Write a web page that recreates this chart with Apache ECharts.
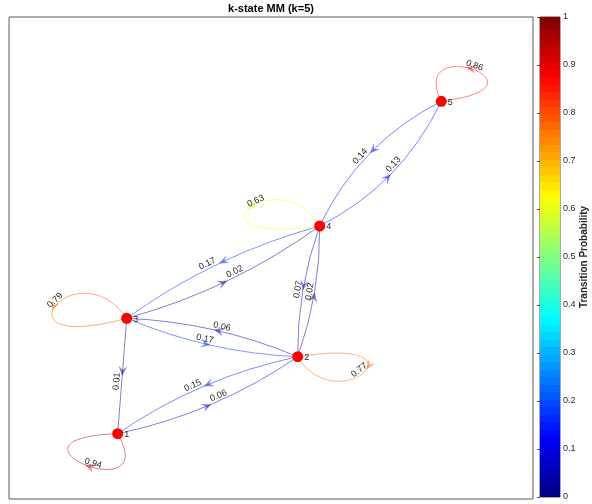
<!DOCTYPE html>
<html>
<head>
<meta charset="utf-8">
<script src="https://cdn.jsdelivr.net/npm/echarts@6/dist/echarts.min.js"></script>
<style>
  html, body { margin: 0; padding: 0; background: #fff; }
  #chart { width: 592px; height: 504px; }
</style>
</head>
<body>
<div id="chart"></div>
<script>
// ---- Markov chain states (layout coordinates, y up) ----
const stateNames = ['1', '2', '3', '4', '5'];
const stateX = [2.074, 5.510, 2.246, 5.929, 8.250];
const stateY = [1.355, 2.952, 3.749, 5.664, 8.251];

// ---- Transitions (0-based state indices) and their probabilities ----
const edgeFrom = [0, 0, 1, 1, 1, 1, 2, 2, 2, 2, 3, 3, 3, 3, 4, 4];
const edgeTo   = [0, 1, 0, 1, 2, 3, 0, 1, 2, 3, 1, 2, 3, 4, 3, 4];
const edgeProb = [0.94, 0.06, 0.15, 0.77, 0.06, 0.02, 0.01, 0.17, 0.79, 0.02, 0.07, 0.17, 0.63, 0.13, 0.14, 0.86];

// ---- Colorbar ticks ----
const colorbarTicks = [0, 0.1, 0.2, 0.3, 0.4, 0.5, 0.6, 0.7, 0.8, 0.9, 1];

// ---- Drawing style ----
const FONT = '"Liberation Sans", Arial, Helvetica, sans-serif';
const TEXT_COLOR = '#262626';
const EDGE_ALPHA = 0.5;
// bend of reciprocal edge pairs (control offset as a fraction of edge length)
const pairBend = { '0-1': 0.10, '1-2': 0.09, '1-3': 0.09, '2-3': 0.09, '3-4': 0.17 };
// where along a directed edge its label sits (default 0.55)
const edgeLabelAt = { '1>2': 0.46, '2>1': 0.46, '3>1': 0.5, '1>3': 0.5 };
// self-loop shape per state: cubic control offsets from the node (px, screen),
// arrow tip and label positions along the loop, label lift
const loopShape = [
  { c1: [45, 78], c2: [-132, 5], arrowAt: 0.5, labelAt: 0.45, gap: 4 },
  { c1: [136, -22], c2: [40, 65], arrowAt: 0.45, labelAt: 0.52, gap: 5 },
  { c1: [-50, -72], c2: [-140, 38], arrowAt: 0.56, labelAt: 0.47, gap: 4 },
  { c1: [-38, -68], c2: [-148, 20], arrowAt: 0.53, labelAt: 0.43, gap: 3 },
  { c1: [120, -15], c2: [-35, -70], arrowAt: 0.56, labelAt: 0.5, gap: 4 }
];

function jet(v) {
  const f = t => Math.max(0, Math.min(1, t));
  return [f(1.5 - Math.abs(4 * v - 3)), f(1.5 - Math.abs(4 * v - 2)), f(1.5 - Math.abs(4 * v - 1))]
    .map(c => Math.round(c * 255));
}
function jetCss(v, a) {
  const c = jet(v);
  return a == null ? 'rgb(' + c.join(',') + ')' : 'rgba(' + c[0] + ',' + c[1] + ',' + c[2] + ',' + a + ')';
}

function norm(v) {
  const l = Math.hypot(v[0], v[1]) || 1;
  return [v[0] / l, v[1] / l];
}
function quadAt(p0, c, p1, t) {
  const u = 1 - t;
  return [u * u * p0[0] + 2 * u * t * c[0] + t * t * p1[0], u * u * p0[1] + 2 * u * t * c[1] + t * t * p1[1]];
}
function quadTan(p0, c, p1, t) {
  const u = 1 - t;
  return norm([2 * u * (c[0] - p0[0]) + 2 * t * (p1[0] - c[0]), 2 * u * (c[1] - p0[1]) + 2 * t * (p1[1] - c[1])]);
}
function cubicAt(p0, c1, c2, p3, t) {
  const u = 1 - t;
  const a = u * u * u, b = 3 * u * u * t, c = 3 * u * t * t, d = t * t * t;
  return [a * p0[0] + b * c1[0] + c * c2[0] + d * p3[0], a * p0[1] + b * c1[1] + c * c2[1] + d * p3[1]];
}
function cubicTan(p0, c1, c2, p3, t) {
  const u = 1 - t;
  return norm([
    3 * u * u * (c1[0] - p0[0]) + 6 * u * t * (c2[0] - c1[0]) + 3 * t * t * (p3[0] - c2[0]),
    3 * u * u * (c1[1] - p0[1]) + 6 * u * t * (c2[1] - c1[1]) + 3 * t * t * (p3[1] - c2[1])
  ]);
}

// barbed arrowhead with its tip at `tip`, pointing along unit vector `dir`
function arrowHead(tip, dir, color) {
  const L = 10, W = 4.3;
  const nx = -dir[1], ny = dir[0];
  const bx = tip[0] - dir[0] * L, by = tip[1] - dir[1] * L;
  const notch = [tip[0] - dir[0] * L * 0.6, tip[1] - dir[1] * L * 0.6];
  return {
    type: 'polygon',
    shape: { points: [tip, [bx + nx * W, by + ny * W], notch, [bx - nx * W, by - ny * W]] },
    style: { fill: color, stroke: null }
  };
}

// probability text rotated along the edge, lifted slightly above it
function edgeText(pt, tan, text, gap) {
  let a = Math.atan2(-tan[1], tan[0]);
  if (a > Math.PI / 2 + 1e-6) a -= Math.PI;
  else if (a < -Math.PI / 2 - 1e-6) a += Math.PI;
  return {
    type: 'text',
    x: pt[0] - Math.sin(a) * gap,
    y: pt[1] - Math.cos(a) * gap,
    rotation: a,
    style: {
      text: text, font: '9px ' + FONT, fill: TEXT_COLOR,
      align: 'center', verticalAlign: 'middle'
    }
  };
}

function hasReverse(i) {
  for (let k = 0; k < edgeFrom.length; k++) {
    if (edgeFrom[k] === edgeTo[i] && edgeTo[k] === edgeFrom[i]) return true;
  }
  return false;
}

function renderEdge(params, api) {
  const i = params.dataIndex;
  const s = edgeFrom[i], t = edgeTo[i], p = edgeProb[i];
  const color = jetCss(p, EDGE_ALPHA);
  const label = p.toFixed(2);
  const P0 = api.coord([stateX[s], stateY[s]]);
  const children = [];

  if (s === t) {
    const ls = loopShape[s];
    const C1 = [P0[0] + ls.c1[0], P0[1] + ls.c1[1]];
    const C2 = [P0[0] + ls.c2[0], P0[1] + ls.c2[1]];
    children.push({
      type: 'bezierCurve',
      shape: { x1: P0[0], y1: P0[1], x2: P0[0], y2: P0[1], cpx1: C1[0], cpy1: C1[1], cpx2: C2[0], cpy2: C2[1] },
      style: { stroke: color, fill: null, lineWidth: 1 }
    });
    children.push(arrowHead(cubicAt(P0, C1, C2, P0, ls.arrowAt), cubicTan(P0, C1, C2, P0, ls.arrowAt), color));
    children.push(edgeText(cubicAt(P0, C1, C2, P0, ls.labelAt), cubicTan(P0, C1, C2, P0, ls.labelAt), label, ls.gap));
  } else {
    const P1 = api.coord([stateX[t], stateY[t]]);
    const dx = P1[0] - P0[0], dy = P1[1] - P0[1];
    const len = Math.hypot(dx, dy);
    let bend = 0;
    if (hasReverse(i)) {
      bend = pairBend[Math.min(s, t) + '-' + Math.max(s, t)] || 0.1;
    }
    const h = bend * len;
    const C = [(P0[0] + P1[0]) / 2 - dy / len * h, (P0[1] + P1[1]) / 2 + dx / len * h];
    const lt = edgeLabelAt[s + '>' + t] || 0.55;
    children.push({
      type: 'bezierCurve',
      shape: { x1: P0[0], y1: P0[1], x2: P1[0], y2: P1[1], cpx1: C[0], cpy1: C[1] },
      style: { stroke: color, fill: null, lineWidth: 1 }
    });
    children.push(arrowHead(quadAt(P0, C, P1, 0.5), quadTan(P0, C, P1, 0.5), color));
    children.push(edgeText(quadAt(P0, C, P1, lt), quadTan(P0, C, P1, lt), label, 5));
  }
  return { type: 'group', children: children };
}

// banded jet colormap for the colorbar
const bandStops = [];
const NBANDS = 64;
for (let b = 0; b < NBANDS; b++) {
  const c = jetCss((b + 0.5) / NBANDS);
  bandStops.push({ offset: b / NBANDS, color: c }, { offset: (b + 1) / NBANDS, color: c });
}

const chart = echarts.init(document.getElementById('chart'), null, { renderer: 'canvas' });
chart.setOption({
  animation: false,
  backgroundColor: '#ffffff',
  graphic: [{
    type: 'text', x: 271, y: 9,
    style: {
      text: 'k-state MM (k=5)', font: 'bold 11px ' + FONT, fill: '#000',
      align: 'center', verticalAlign: 'middle'
    }
  }],
  grid: [
    { left: 9, top: 17, width: 524, height: 482, show: true, borderColor: '#5a5a5a', borderWidth: 1, backgroundColor: 'transparent' },
    { left: 540, top: 17, width: 20, height: 480, show: true, borderColor: '#262626', borderWidth: 0.8, backgroundColor: 'transparent' }
  ],
  xAxis: [
    { gridIndex: 0, type: 'value', min: 0, max: 10, show: false },
    { gridIndex: 1, type: 'value', min: 0, max: 1, show: false }
  ],
  yAxis: [
    { gridIndex: 0, type: 'value', min: 0, max: 10, show: false },
    {
      gridIndex: 1, type: 'value', position: 'right', min: 0, max: 1, interval: 0.1,
      axisLine: { show: false },
      axisTick: { show: true, inside: true, length: 3, lineStyle: { color: TEXT_COLOR, width: 0.8 } },
      axisLabel: {
        show: true, margin: 3, fontSize: 9, fontFamily: FONT, color: TEXT_COLOR,
        formatter: v => colorbarTicks.some(t => Math.abs(t - v) < 1e-9) ? String(+v.toFixed(1)) : ''
      },
      splitLine: { show: false },
      name: 'Transition Probability', nameLocation: 'middle', nameRotate: 90, nameGap: 10,
      nameTextStyle: { fontSize: 10, fontWeight: 'bold', fontFamily: FONT, color: TEXT_COLOR }
    }
  ],
  series: [
    {
      type: 'custom',
      xAxisIndex: 1, yAxisIndex: 1,
      silent: true,
      data: [[0, 0]],
      renderItem: function (params, api) {
        const lo = api.coord([0, 0]), hi = api.coord([1, 1]);
        return {
          type: 'rect',
          shape: { x: lo[0], y: hi[1], width: hi[0] - lo[0], height: lo[1] - hi[1] },
          style: { fill: new echarts.graphic.LinearGradient(0, 1, 0, 0, bandStops) }
        };
      },
      z: 1
    },
    {
      type: 'custom',
      xAxisIndex: 0, yAxisIndex: 0,
      silent: true,
      data: edgeFrom.map((s, i) => [s, edgeTo[i], edgeProb[i]]),
      renderItem: renderEdge,
      z: 2
    },
    {
      type: 'scatter',
      xAxisIndex: 0, yAxisIndex: 0,
      silent: true,
      symbol: 'circle',
      symbolSize: 11,
      itemStyle: { color: '#ff0000', opacity: 1 },
      label: {
        show: true, position: 'right', distance: 1, offset: [0, 1],
        formatter: p => p.name,
        fontSize: 9, fontFamily: FONT, color: TEXT_COLOR
      },
      data: stateX.map((x, i) => ({ name: stateNames[i], value: [x, stateY[i]] })),
      z: 3
    }
  ]
});
</script>
</body>
</html>
